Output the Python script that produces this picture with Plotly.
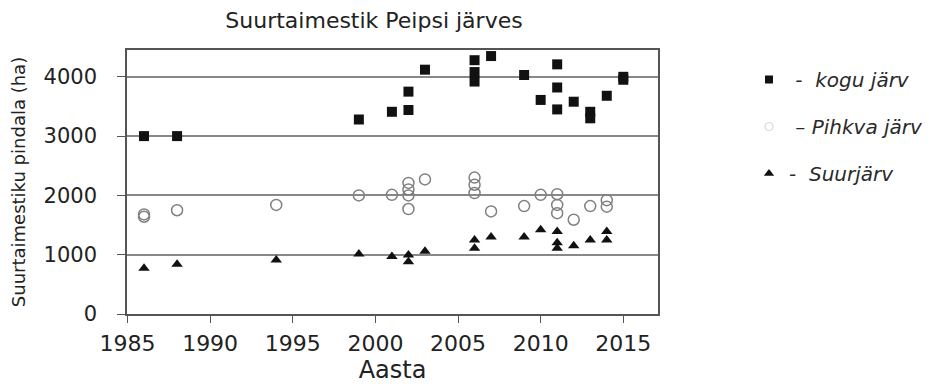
import plotly.graph_objects as go

# --- data ---
kogu_year = [1986, 1988, 1999, 2001, 2002, 2002, 2003, 2006, 2006, 2006, 2007, 2009, 2010,
             2011, 2011, 2011, 2012, 2013, 2013, 2014, 2015, 2015]
kogu_val = [3000, 3000, 3280, 3410, 3750, 3440, 4120, 4280, 4080, 3920, 4350, 4030, 3610,
            4210, 3820, 3450, 3580, 3410, 3300, 3680, 4000, 3950]

pihkva_year = [1986, 1986, 1988, 1994, 1999, 2001, 2002, 2002, 2002, 2002, 2003, 2006, 2006, 2006,
               2007, 2009, 2010, 2011, 2011, 2011, 2012, 2013, 2014, 2014]
pihkva_val = [1680, 1640, 1750, 1840, 2000, 2010, 2210, 2100, 2000, 1770, 2270, 2300, 2180, 2040,
              1730, 1820, 2010, 2020, 1840, 1700, 1590, 1820, 1920, 1810]

suur_year = [1986, 1988, 1994, 1999, 2001, 2002, 2002, 2003, 2006, 2006, 2007, 2009, 2010,
             2011, 2011, 2011, 2012, 2013, 2014, 2014]
suur_val = [770, 840, 910, 1010, 970, 995, 880, 1060, 1250, 1110, 1300, 1300, 1420,
            1390, 1200, 1110, 1150, 1250, 1390, 1250]

x_ticks = [1985, 1990, 1995, 2000, 2005, 2010, 2015]
y_ticks = [0, 1000, 2000, 3000, 4000]

title_text = "Suurtaimestik Peipsi järves"
x_title = "Aasta"
y_title = "Suurtaimestiku pindala (ha)"
NB = "\u00a0"
names = [f"<i>{NB}-{NB}{NB}kogu järv</i>",
         f"<i>{NB}–{NB}Pihkva järv</i>",
         f"<i>-{NB}{NB}Suurjärv</i>"]

FONT = "DejaVu Sans, Liberation Sans, Arial, sans-serif"
OFF = 8  # page body margin offset

fig = go.Figure()

fig.add_trace(go.Scatter(x=kogu_year, y=kogu_val, mode="markers", showlegend=False,
                         marker=dict(symbol="square", size=10, color="#111")))
fig.add_trace(go.Scatter(x=pihkva_year, y=pihkva_val, mode="markers", showlegend=False,
                         marker=dict(symbol="circle-open", size=11, color="#808080",
                                     line=dict(width=1.5, color="#808080"))))
fig.add_trace(go.Scatter(x=suur_year, y=suur_val, mode="markers", showlegend=False,
                         marker=dict(symbol="triangle-up", size=10, color="#111")))

# legend-only entries
fig.add_trace(go.Scatter(x=[None], y=[None], mode="markers", name=names[0], legendgroup="a",
                         marker=dict(symbol="square", size=8, color="#111")))
fig.add_trace(go.Scatter(x=[None], y=[None], mode="markers", name=names[1], legendgroup="b",
                         marker=dict(symbol="circle-open", size=8, color="#d8d8d8",
                                     line=dict(width=1.2, color="#d8d8d8"))))
fig.add_trace(go.Scatter(x=[None], y=[None], mode="markers", name=names[2], legendgroup="c",
                         marker=dict(symbol="triangle-up", size=9, color="#111")))

fig.update_layout(
    width=935, height=388,
    margin=dict(l=127 - OFF, r=277 + OFF, t=50 - OFF, b=74 + OFF),
    paper_bgcolor="white", plot_bgcolor="white",
    font=dict(family=FONT, color="#222"),
    title=dict(text=title_text, x=(374 - OFF) / 935, xref="container", xanchor="center",
               y=1 - (20 - OFF) / 388, yref="container", yanchor="middle",
               font=dict(size=22, color="#222")),
    showlegend=True,
    legend=dict(xref="container", yref="container", x=741 / 935, y=1 - 52 / 388,
                xanchor="left", yanchor="top", traceorder="grouped", tracegroupgap=18,
                font=dict(family=FONT, size=20, color="#2a2a2a"),
                bgcolor="rgba(0,0,0,0)", itemclick=False),
)

fig.update_xaxes(range=[1984.97, 2017.1], tickvals=x_ticks, ticks="outside", ticklen=7,
                 tickcolor="#555", showline=True, linecolor="#555", linewidth=1.5,
                 mirror=True, showgrid=False, zeroline=False, automargin=False,
                 ticklabelstandoff=2, tickfont=dict(size=22, color="#222"),
                 title=dict(text=x_title, font=dict(size=24, color="#222"), standoff=6))
fig.update_yaxes(range=[0, 4452], tickvals=y_ticks, ticks="outside", ticklen=8,
                 tickcolor="#555", showline=True, linecolor="#555", linewidth=1.5,
                 mirror=True, showgrid=True, gridcolor="#888", gridwidth=1.5,
                 zeroline=False, automargin=False, ticklabelstandoff=16,
                 tickfont=dict(size=21, color="#222"),
                 title=dict(text=y_title, font=dict(size=18, color="#222"), standoff=17))

fig.write_html("out.html")
